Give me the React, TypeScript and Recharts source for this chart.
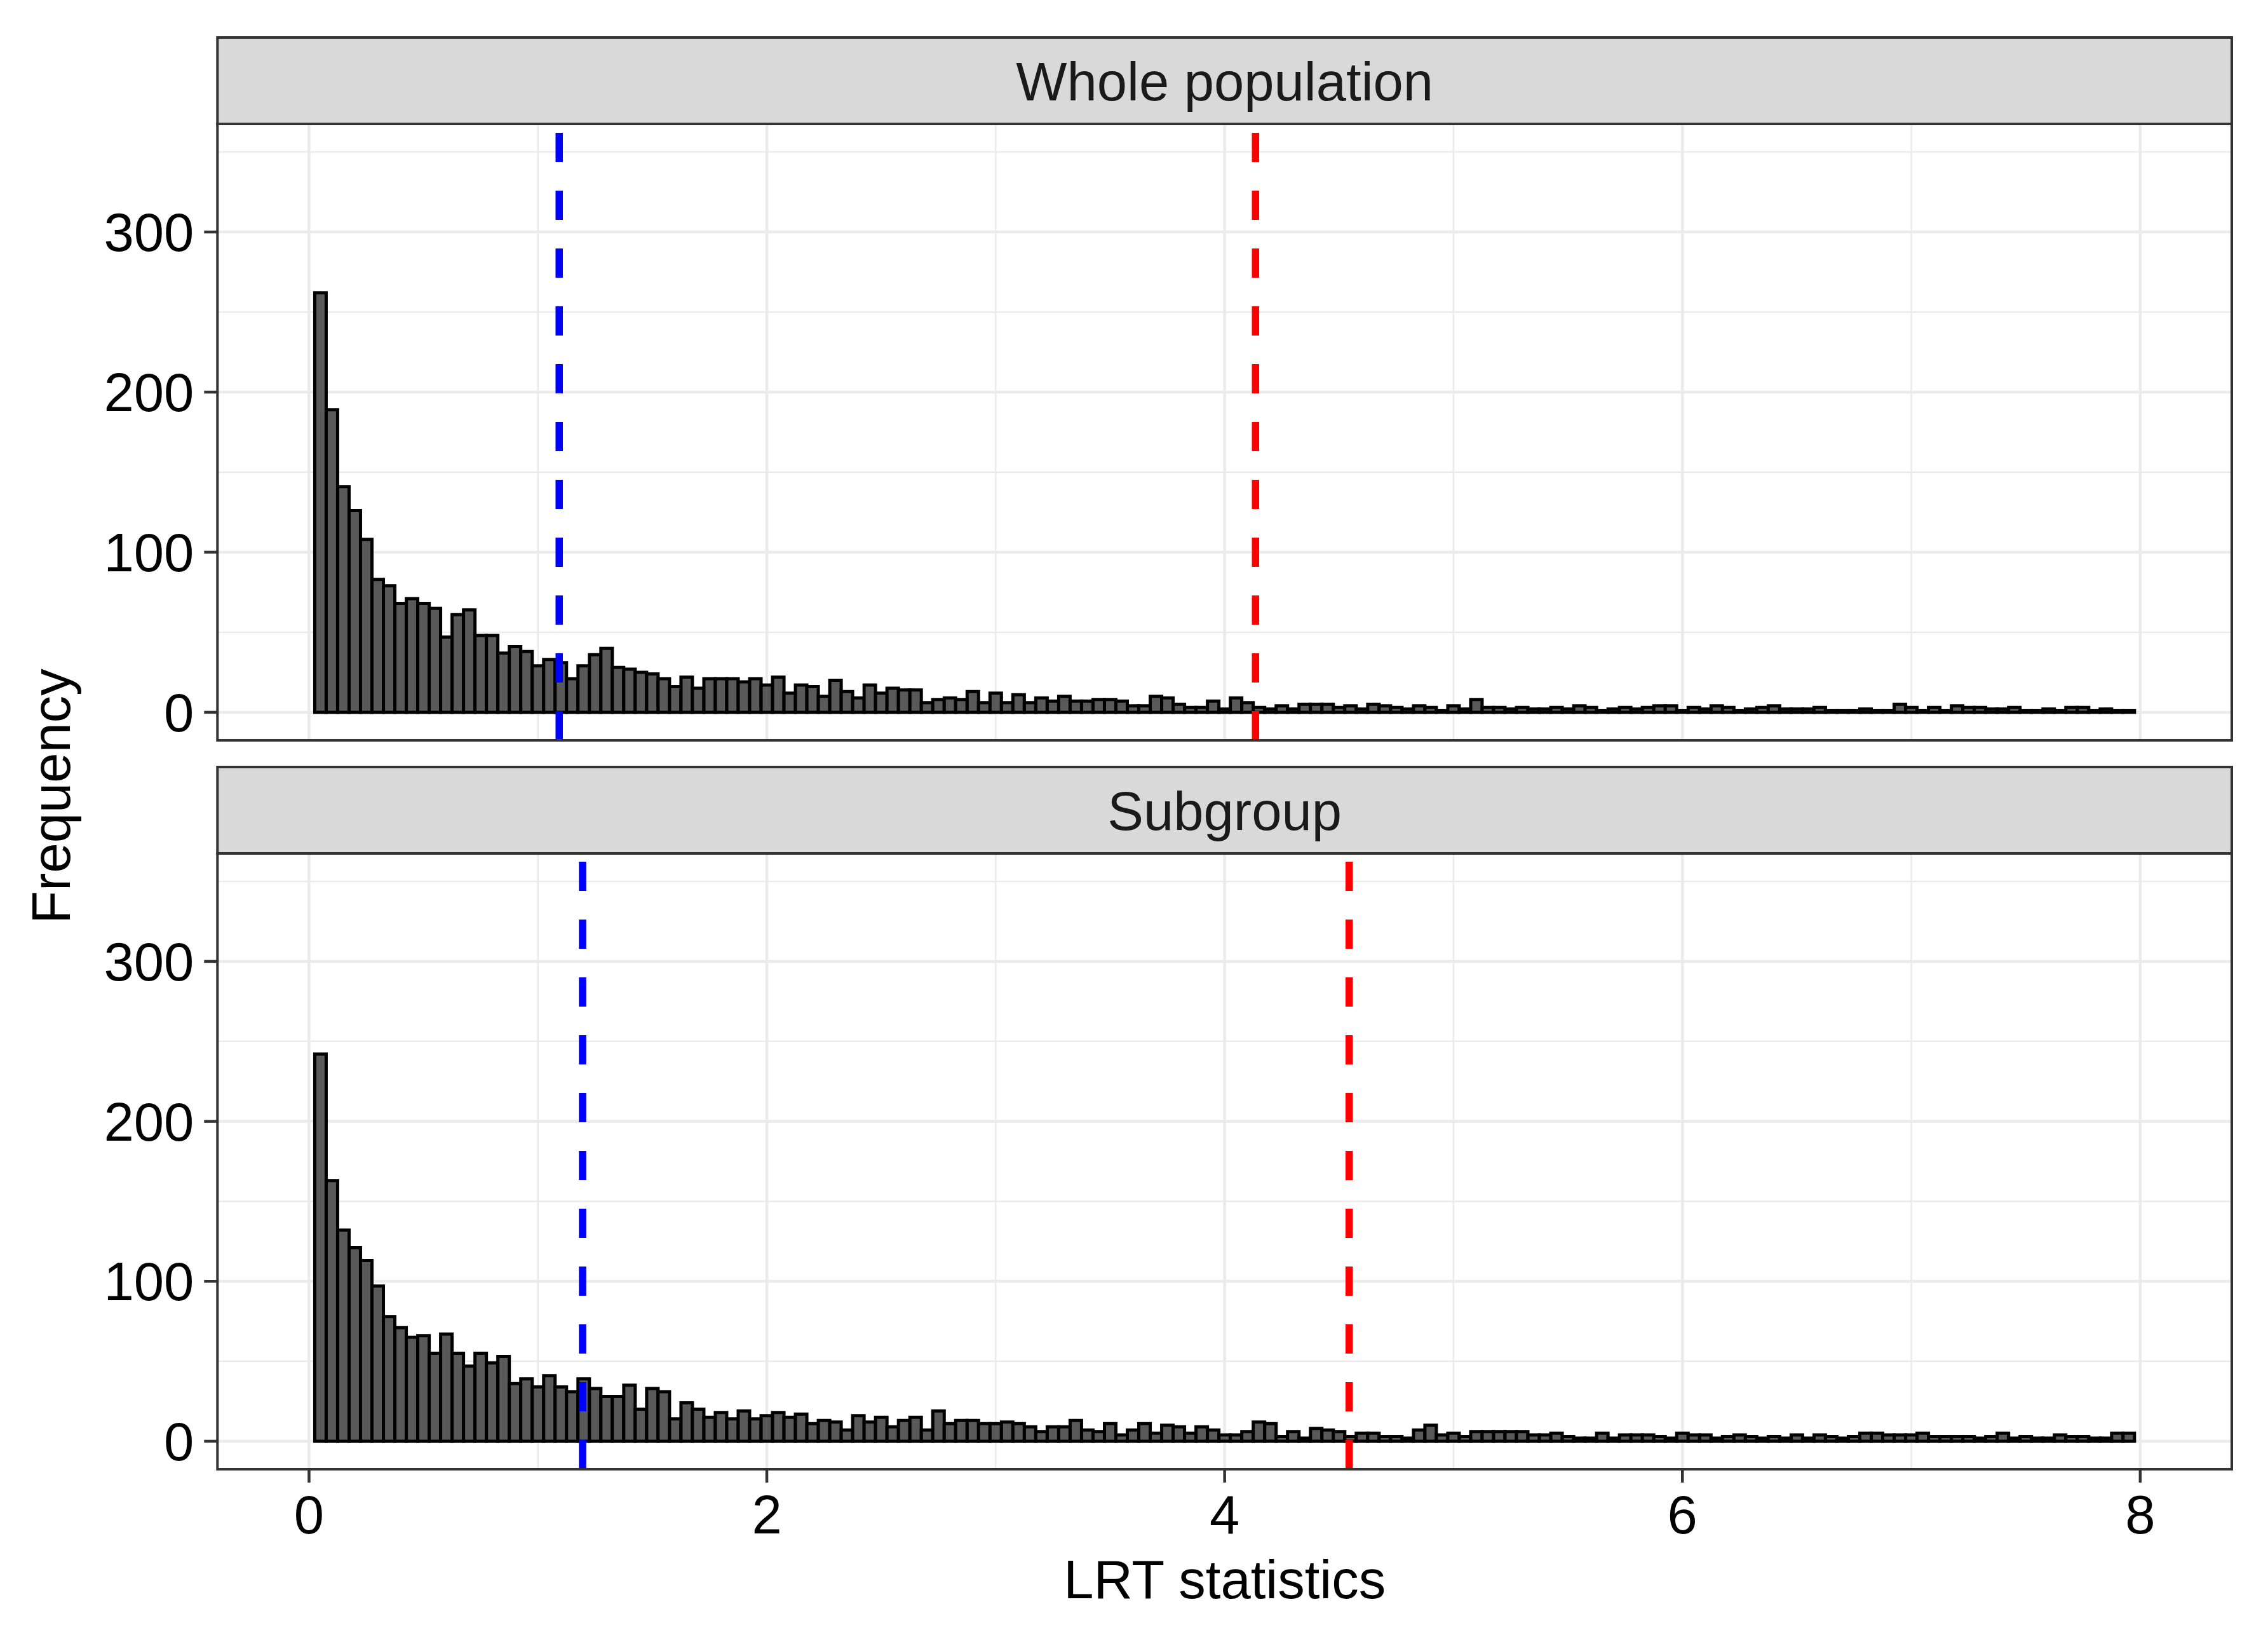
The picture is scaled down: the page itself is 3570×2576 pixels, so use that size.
import { ComposedChart, Bar, XAxis, YAxis, CartesianGrid, ReferenceLine } from 'recharts'

// histogram bins: width 0.05, centred on multiples of 0.05 (0.05 .. 7.95)
const BIN_WIDTH = 0.05
const binCenters = Array.from({ length: 159 }, (_, i) => Math.round((i + 1) * BIN_WIDTH * 100) / 100)

// counts, one per bin
const wholePopulationCounts = [
    262, 189, 141, 126, 108, 83, 79, 68, 71, 68,
    65, 47, 61, 64, 48, 48, 37, 41, 38, 29,
    33, 31, 21, 29, 36, 40, 28, 27, 25, 24,
    21, 16, 22, 15, 21, 21, 21, 19, 21, 17,
    22, 12, 17, 16, 10, 20, 13, 9, 17, 12,
    15, 14, 14, 6, 8, 9, 8, 13, 6, 12,
    6, 11, 6, 9, 7, 10, 7, 7, 8, 8,
    7, 4, 4, 10, 9, 5, 3, 3, 7, 2,
    9, 6, 3, 2, 4, 2, 5, 5, 5, 3,
    4, 2, 5, 4, 3, 2, 4, 3, 1, 4,
    2, 8, 3, 3, 2, 3, 2, 2, 3, 2,
    4, 3, 1, 2, 3, 2, 3, 4, 4, 1,
    3, 2, 4, 3, 1, 2, 3, 4, 2, 2,
    2, 3, 1, 1, 1, 2, 1, 1, 5, 3,
    1, 3, 1, 4, 3, 3, 2, 2, 3, 1,
    1, 2, 1, 3, 3, 1, 2, 1, 1,
]

const subgroupCounts = [
    242, 163, 132, 121, 113, 97, 78, 71, 65, 66,
    55, 67, 55, 47, 55, 49, 53, 36, 39, 34,
    41, 34, 31, 39, 33, 28, 28, 35, 20, 33,
    31, 14, 24, 20, 15, 18, 14, 19, 14, 16,
    18, 15, 17, 11, 13, 12, 7, 16, 12, 15,
    9, 13, 15, 7, 19, 11, 13, 13, 11, 11,
    12, 11, 9, 6, 9, 9, 13, 7, 6, 11,
    4, 7, 11, 5, 10, 9, 5, 9, 7, 4,
    4, 6, 12, 11, 3, 6, 2, 8, 7, 6,
    3, 5, 5, 3, 3, 2, 7, 10, 4, 5,
    3, 6, 6, 6, 6, 6, 4, 4, 5, 3,
    2, 2, 5, 2, 4, 4, 4, 3, 2, 5,
    4, 4, 2, 3, 4, 3, 2, 3, 2, 4,
    2, 4, 3, 2, 3, 5, 5, 4, 4, 4,
    5, 3, 3, 3, 3, 2, 3, 5, 2, 3,
    2, 2, 4, 3, 3, 2, 2, 5, 5,
]

const panelTitles = ['Whole population', 'Subgroup']
const blueCutoffs = [1.093, 1.195]
const redCutoffs = [4.135, 4.544]

const xTicks = [0, 2, 4, 6, 8]
const xMinorTicks = [1, 3, 5, 7]
const yTicks = [0, 100, 200, 300]
const yMinorTicks = [50, 150, 250, 350]

// layout (px)
const W = 3570
const H = 2576
const PLOT_LEFT = 342.3
const PLOT_RIGHT = 3513
const Y_AXIS_W = 300
const X_AXIS_H = 150
const STRIP_H = 136
const FONT = '"Liberation Sans", Arial, Helvetica, sans-serif'
const BORDER = '#333333'

const panels = [
    { stripTop: 59, plotTop: 195, plotBottom: 1165 },
    { stripTop: 1207, plotTop: 1343, plotBottom: 2312 },
]

function dashedVLine(color: string) {
    // drawn from the bottom of the panel upwards, like ggplot's vline
    return (props: any) => {
        const yb = Math.max(props.y1, props.y2)
        const yt = Math.min(props.y1, props.y2)
        return (
            <line
                x1={props.x1}
                x2={props.x2}
                y1={yb}
                y2={yt}
                stroke={color}
                strokeWidth={11.5}
                strokeDasharray="46 45"
            />
        )
    }
}

interface PanelProps {
    counts: number[]
    index: number
    showXAxis: boolean
}

function HistPanel({ counts, index, showXAxis }: PanelProps) {
    const p = panels[index]
    const data = binCenters.map((x, i) => ({ x, count: counts[i] }))
    const bottomMargin = H - p.plotBottom - (showXAxis ? X_AXIS_H : 0)

    return (
        <div style={{ position: 'absolute', left: 0, top: 0 }}>
            <ComposedChart
                width={W}
                height={H}
                data={data}
                barCategoryGap={0}
                barGap={0}
                margin={{ top: p.plotTop, bottom: bottomMargin, left: PLOT_LEFT - Y_AXIS_W, right: W - PLOT_RIGHT }}
            >
                <CartesianGrid
                    stroke="#ebebeb"
                    strokeWidth={2.5}
                    horizontalValues={yMinorTicks}
                    verticalValues={xMinorTicks}
                />
                <CartesianGrid
                    stroke="#ebebeb"
                    strokeWidth={4.5}
                    horizontalValues={yTicks}
                    verticalValues={xTicks}
                />
                <XAxis
                    dataKey="x"
                    type="number"
                    domain={[-0.4, 8.4]}
                    allowDataOverflow
                    ticks={xTicks}
                    interval={0}
                    hide={!showXAxis}
                    height={showXAxis ? X_AXIS_H : 0}
                    axisLine={false}
                    tickSize={21}
                    tickMargin={20}
                    tickLine={{ stroke: BORDER, strokeWidth: 4.5 }}
                    tick={{ fill: '#000', fontSize: 85, fontFamily: FONT }}
                />
                <YAxis
                    type="number"
                    domain={[-17.5, 367.5]}
                    allowDataOverflow
                    ticks={yTicks}
                    interval={0}
                    width={Y_AXIS_W}
                    axisLine={false}
                    tickSize={21}
                    tickMargin={16}
                    tickLine={{ stroke: BORDER, strokeWidth: 4.5 }}
                    tick={{ fill: '#000', fontSize: 85, fontFamily: FONT }}
                />
                <Bar dataKey="count" fill="#595959" stroke="#000" strokeWidth={5} isAnimationActive={false} />
                <ReferenceLine x={blueCutoffs[index]} shape={dashedVLine('#0000ff')} />
                <ReferenceLine x={redCutoffs[index]} shape={dashedVLine('#ff0000')} />
            </ComposedChart>
        </div>
    )
}

export default function App() {
    const midX = (PLOT_LEFT + PLOT_RIGHT) / 2

    return (
        <div style={{ position: 'absolute', left: 0, top: 0, width: W, height: H, background: '#fff', fontFamily: FONT }}>
            <HistPanel counts={wholePopulationCounts} index={0} showXAxis={false} />
            <HistPanel counts={subgroupCounts} index={1} showXAxis={true} />

            {/* facet strips, panel borders and axis titles */}
            <svg width={W} height={H} style={{ position: 'absolute', left: 0, top: 0, pointerEvents: 'none' }}>
                {panels.map((p, i) => (
                    <g key={i}>
                        <rect
                            x={PLOT_LEFT}
                            y={p.stripTop}
                            width={PLOT_RIGHT - PLOT_LEFT}
                            height={STRIP_H}
                            fill="#d9d9d9"
                            stroke={BORDER}
                            strokeWidth={4}
                        />
                        <text
                            x={midX}
                            y={p.stripTop + 99}
                            textAnchor="middle"
                            fontSize={85}
                            fontFamily={FONT}
                            fill="#1a1a1a"
                        >
                            {panelTitles[i]}
                        </text>
                        <rect
                            x={PLOT_LEFT}
                            y={p.plotTop}
                            width={PLOT_RIGHT - PLOT_LEFT}
                            height={p.plotBottom - p.plotTop}
                            fill="none"
                            stroke={BORDER}
                            strokeWidth={4}
                        />
                    </g>
                ))}
                <text x={midX} y={2515} textAnchor="middle" fontSize={85} fontFamily={FONT} fill="#000">
                    LRT statistics
                </text>
                <text
                    x={110}
                    y={1253}
                    textAnchor="middle"
                    fontSize={85}
                    fontFamily={FONT}
                    fill="#000"
                    transform="rotate(-90 110 1253)"
                >
                    Frequency
                </text>
            </svg>
        </div>
    )
}
